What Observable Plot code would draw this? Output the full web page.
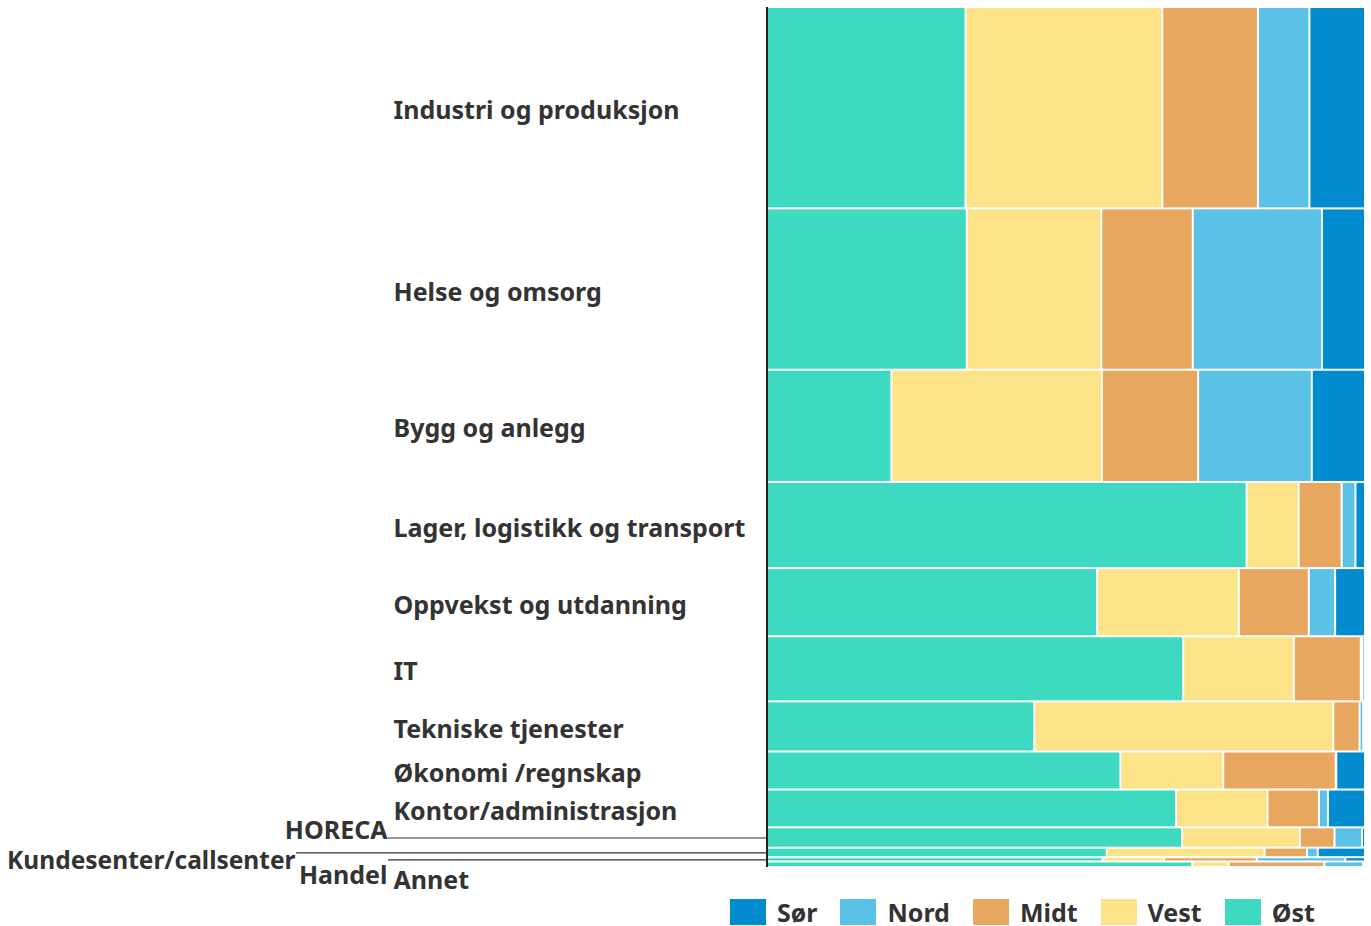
<!DOCTYPE html>
<html>
<head>
<meta charset="utf-8">
<script src="https://cdn.jsdelivr.net/npm/d3@7"></script>
<script src="https://cdn.jsdelivr.net/npm/@observablehq/plot@0.6"></script>
<style>
  body { margin: 0; background: #fff; font-family: "Noto Sans", "Open Sans", sans-serif; }
  #chart svg { display: block; }
  #legend { display: flex; align-items: center; margin-left: 730px; height: 26px; margin-top: 4px; }
  .item { display: flex; align-items: center; margin-right: 23px; height: 26px; }
  .sw { width: 36px; height: 26px; margin-right: 11px; }
  .lab { font-weight: 700; font-size: 25px; color: #333; line-height: 25px; }
</style>
</head>
<body>
<div id="chart"></div>
<div id="legend"></div>
<script>
// ---- data ----
const categories = [
  "Industri og produksjon", "Helse og omsorg", "Bygg og anlegg",
  "Lager, logistikk og transport", "Oppvekst og utdanning", "IT",
  "Tekniske tjenester", "Økonomi /regnskap", "Kontor/administrasjon",
  "HORECA", "Kundesenter/callsenter", "Handel", "Annet"
];
// category totals (row thickness)
const totals = [2010, 1610, 1120, 860, 680, 650, 500, 380, 377, 203, 95, 43, 55];
// share per region within each category (%)
const ost  = [33.2, 33.4, 20.8, 80.2, 55.2, 69.6, 44.7, 59.1, 68.4, 69.4, 56.8, 56.1, 71.1];
const vest = [32.9, 22.5, 35.2,  8.7, 23.7, 18.5, 50.0, 17.2, 15.3, 19.7, 26.4, 10.3,  6.1];
const midt = [16.0, 15.3, 16.1,  7.2, 11.7, 11.2,  4.4, 18.8,  8.6,  5.8,  7.1, 15.5, 16.0];
const nord = [ 8.6, 21.6, 19.0,  2.3,  4.4,  0.3,  0.6,  0.1,  1.5,  4.6,  1.8, 14.8,  6.5];
const sor  = [ 9.3,  7.2,  8.9,  1.6,  5.0,  0.4,  0.3,  4.8,  6.2,  0.5,  7.9,  3.3,  0.3];
const regions = ["Øst", "Vest", "Midt", "Nord", "Sør"];
const legendOrder = ["Sør", "Nord", "Midt", "Vest", "Øst"];

// ---- styles / layout ----
const colors = ["#3ed9c1", "#fce388", "#e8a75f", "#5bc1e6", "#028bcf"];
const W = 1371, H = 895;
const mL = 767, mR = 6, mT = 7, mB = H - 867;
const font = "'Noto Sans', 'Open Sans', sans-serif";
const fs = 25;
const labelX = 393;        // left edge of normal labels (px)
const special = {
  "HORECA":                 {anchor: "end", x: 387, dy: 1.5, line: 388, fs: 25},
  "Kundesenter/callsenter": {anchor: "end", x: 295, dy: 16,  line: 296, fs: 24.5},
  "Handel":                 {anchor: "end", x: 387, dy: 24,  line: 388, fs: 25},
  "Annet":                  {anchor: "start", x: 393, dy: 24, line: null, fs: 25}
};

// ---- build table ----
const series = [ost, vest, midt, nord, sor];
const cells = [];
const rows = [];
let cy = 0;
categories.forEach((c, i) => {
  const y1 = cy, y2 = cy + totals[i];
  rows.push({name: c, y1, y2, yc: (y1 + y2) / 2});
  let cx = 0;
  regions.forEach((r, j) => {
    const v = series[j][i];
    cells.push({category: c, region: r, x1: cx, x2: cx + v, y1, y2});
    cx += v;
  });
  cy = y2;
});
const grand = cy;
const xInv = px => (px - mL) / (W - mL - mR) * 100;

const normalRows = rows.filter(r => !special[r.name]);
const marks = [
  Plot.rect(cells, {x1: "x1", x2: "x2", y1: "y1", y2: "y2", fill: "region", inset: 1}),
  Plot.ruleX([0], {stroke: "#222", strokeWidth: 2, dx: -0.5}),
  Plot.text(normalRows, {
    y: "yc", x: () => xInv(labelX), text: "name", textAnchor: "start",
    lineAnchor: "bottom", dy: 11, fontSize: fs, fontWeight: 700, fill: "#333", fontFamily: font
  })
];
rows.filter(r => special[r.name]).forEach(r => {
  const s = special[r.name];
  marks.push(Plot.text([r], {
    y: "yc", x: () => xInv(s.x), text: "name", textAnchor: s.anchor,
    lineAnchor: "bottom", dy: s.dy, fontSize: s.fs, fontWeight: 700, fill: "#333", fontFamily: font
  }));
  if (s.line != null) {
    marks.push(Plot.ruleY([r], {y: "yc", x1: () => xInv(s.line), x2: () => 0, stroke: "#333", strokeWidth: 1.2}));
  }
});

const chart = Plot.plot({
  width: W, height: H,
  marginLeft: mL, marginRight: mR, marginTop: mT, marginBottom: mB,
  x: {domain: [0, 100], axis: null},
  y: {domain: [0, grand], reverse: true, axis: null},
  color: {domain: regions, range: colors},
  style: {fontFamily: font, overflow: "visible"},
  marks
});
document.getElementById("chart").appendChild(chart);

// ---- legend ----
const lg = document.getElementById("legend");
legendOrder.forEach(r => {
  const it = document.createElement("div");
  it.className = "item";
  const sw = document.createElement("div");
  sw.className = "sw";
  sw.style.background = colors[regions.indexOf(r)];
  const lb = document.createElement("span");
  lb.className = "lab";
  lb.textContent = r;
  it.appendChild(sw); it.appendChild(lb);
  lg.appendChild(it);
});
</script>
</body>
</html>
